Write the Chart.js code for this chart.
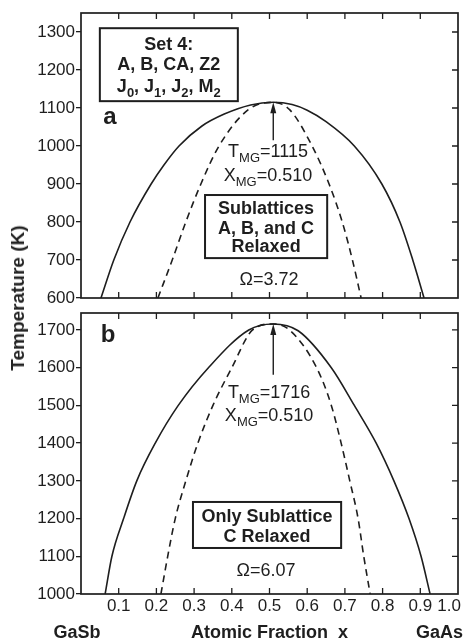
<!DOCTYPE html>
<html>
<head>
<meta charset="utf-8">
<script src="https://cdn.jsdelivr.net/npm/chart.js@4.4.1/dist/chart.umd.min.js"></script>
<style>
body{margin:0;background:#fff;width:464px;height:642px;overflow:hidden;position:relative;font-family:'Liberation Sans',Arial,sans-serif}
canvas{position:absolute;left:0}
#top{top:0}
#bot{top:300px}
#ytitle{position:absolute;left:18px;top:298px;transform:translate(-50%,-50%) rotate(-90deg);font-weight:bold;font-size:19px;white-space:nowrap;color:#222}
</style>
</head>
<body>
<canvas id="top" width="464" height="310"></canvas>
<canvas id="bot" width="464" height="342"></canvas>
<div id="ytitle">Temperature (K)</div>
<script>
// tick values / labels
const xTicks = [0.1, 0.2, 0.3, 0.4, 0.5, 0.6, 0.7, 0.8, 0.9, 1.0];
const xLabels = ['0.1','0.2','0.3','0.4','0.5','0.6','0.7','0.8','0.9','1.0'];
const yTicksA = [600, 700, 800, 900, 1000, 1100, 1200, 1300];
const yTicksB = [1000, 1100, 1200, 1300, 1400, 1500, 1600, 1700];

// panel a : solid (binodal) and dashed (spinodal)
const aSolidX = [0.053, 0.087, 0.13, 0.186, 0.22, 0.26, 0.32, 0.38, 0.45, 0.51, 0.56, 0.60, 0.65, 0.725, 0.798, 0.846, 0.88, 0.91];
const aSolidT = [600, 700, 800, 900, 950, 1000, 1052, 1084, 1108, 1115, 1109, 1094, 1064, 1000, 900, 800, 700, 600];
const aDashX = [0.204, 0.242, 0.278, 0.318, 0.366, 0.443, 0.51, 0.554, 0.613, 0.658, 0.693, 0.72, 0.743];
const aDashT = [600, 700, 800, 900, 1000, 1095, 1115, 1095, 1000, 900, 800, 700, 600];

// panel b
const bSolidX = [0.064, 0.082, 0.113, 0.148, 0.197, 0.258, 0.338, 0.445, 0.51, 0.576, 0.664, 0.725, 0.783, 0.83, 0.87, 0.902, 0.926];
const bSolidT = [1000, 1100, 1200, 1300, 1400, 1500, 1600, 1700, 1716, 1698, 1600, 1500, 1400, 1300, 1200, 1100, 1000];
const bDashX = [0.212, 0.23, 0.25, 0.278, 0.31, 0.35, 0.40, 0.455, 0.51, 0.553, 0.625, 0.664, 0.69, 0.713, 0.735, 0.75, 0.767];
const bDashT = [1000, 1100, 1200, 1300, 1400, 1500, 1600, 1700, 1716, 1700, 1600, 1500, 1400, 1300, 1200, 1100, 1000];

const FONT = "'Liberation Sans', Arial, Helvetica, sans-serif";
const INK = '#1e1e1e';

function pts(xs, ts) {
    return xs.map((x, i) => ({x: x, y: ts[i]}));
}

function line(xs, ts, dashed) {
    return {
        data: pts(xs, ts),
        showLine: true,
        borderColor: INK,
        borderWidth: 1.6,
        borderDash: dashed ? [7, 5] : [],
        pointRadius: 0,
        cubicInterpolationMode: 'monotone'
    };
}

// text with subscripts, parts = [[text, isSub], ...], centred on cx, cy
function rich(ctx, parts, cx, cy, size, weight) {
    const sub = Math.round(size * 0.74);
    const f = p => (weight || '') + ' ' + (p[1] ? sub : size) + 'px ' + FONT;
    let w = 0;
    parts.forEach(p => { ctx.font = f(p); w += ctx.measureText(p[0]).width; });
    let x = cx - w / 2;
    ctx.textAlign = 'left';
    ctx.textBaseline = 'alphabetic';
    parts.forEach(p => {
        ctx.font = f(p);
        ctx.fillText(p[0], x, cy + size * 0.36 + (p[1] ? size * 0.3 : 0));
        x += ctx.measureText(p[0]).width;
    });
}

function decoPlugin(n) {
    return {
        id: 'deco',
        afterDraw(chart) {
            const ctx = chart.ctx, a = chart.chartArea;
            const sx = chart.scales.x, sy = chart.scales.y;
            const X = v => sx.getPixelForValue(v), Y = v => sy.getPixelForValue(v);
            ctx.save();
            ctx.strokeStyle = INK;
            ctx.fillStyle = INK;

            // frame + inward ticks
            ctx.lineWidth = 1.7;
            ctx.strokeRect(a.left, a.top, a.right - a.left, a.bottom - a.top);
            ctx.lineWidth = 1.3;
            ctx.beginPath();
            xTicks.forEach(v => {
                if (v >= 1) return;
                ctx.moveTo(X(v), a.top); ctx.lineTo(X(v), a.top + 6);
                ctx.moveTo(X(v), a.bottom); ctx.lineTo(X(v), a.bottom - 6);
            });
            n.yTicks.forEach(v => {
                if (Y(v) >= a.bottom - 1) return;
                ctx.moveTo(a.right, Y(v)); ctx.lineTo(a.right - 6, Y(v));
            });
            ctx.stroke();

            // panel letter
            ctx.font = 'bold 24px ' + FONT;
            ctx.textAlign = 'center';
            ctx.textBaseline = 'middle';
            ctx.fillText(n.letter[0], X(n.letter[1]), Y(n.letter[2]));

            // arrow to the critical point
            const ax = X(n.arrow[0]), ay0 = Y(n.arrow[1]), ay1 = Y(n.arrow[2]);
            ctx.lineWidth = 1.4;
            ctx.beginPath();
            ctx.moveTo(ax, ay0); ctx.lineTo(ax, ay1 + 6);
            ctx.stroke();
            ctx.beginPath();
            ctx.moveTo(ax, ay1); ctx.lineTo(ax - 3, ay1 + 11); ctx.lineTo(ax + 3, ay1 + 11);
            ctx.closePath();
            ctx.fill();

            // T_MG / X_MG
            rich(ctx, [['T', 0], ['MG', 1], ['=' + n.tmg, 0]], X(n.mg[0]), Y(n.mg[1]), 18, '');
            rich(ctx, [['X', 0], ['MG', 1], ['=' + n.xmg, 0]], X(n.mg[0]), Y(n.mg[2]), 18, '');

            // boxes
            n.boxes.forEach(b => {
                ctx.lineWidth = 2;
                const x0 = X(b.x[0]), x1 = X(b.x[1]), y0 = Y(b.t[0]), y1 = Y(b.t[1]);
                ctx.fillStyle = '#fff';
                ctx.fillRect(x0, y0, x1 - x0, y1 - y0);
                ctx.strokeRect(x0, y0, x1 - x0, y1 - y0);
                ctx.fillStyle = INK;
                const cx = (x0 + x1) / 2;
                b.lines.forEach((ln, i) => rich(ctx, ln, cx, Y(b.at[i]), 18, 'bold'));
            });

            // omega
            rich(ctx, [['\u03A9=' + n.omega[0], 0]], X(n.omega[1]), Y(n.omega[2]), 18, '');

            // x tick labels + axis labels (bottom panel only)
            if (n.xAxis) {
                ctx.font = '17px ' + FONT;
                ctx.textAlign = 'center';
                ctx.textBaseline = 'middle';
                xTicks.forEach((v, i) => {
                    const w = ctx.measureText(xLabels[i]).width;
                    const cx = Math.min(X(v), chart.width - w / 2 - 3);
                    ctx.fillText(xLabels[i], cx, a.bottom + 12);
                });
                ctx.font = 'bold 18px ' + FONT;
                ctx.fillText('GaSb', a.left - 4, a.bottom + 39);
                ctx.fillText('Atomic Fraction  x', X(0.5), a.bottom + 39);
                ctx.textAlign = 'right';
                ctx.fillText('GaAs', chart.width - 1, a.bottom + 39);
            }
            ctx.restore();
        }
    };
}

function yAxis(min, max, ticks) {
    return {
        min: min, max: max,
        afterBuildTicks: s => { s.ticks = ticks.map(v => ({value: v})); },
        afterFit: s => { s.width = 81; s.paddingTop = 0; s.paddingBottom = 0; },
        border: {display: false},
        grid: {drawOnChartArea: false, drawTicks: true, tickLength: 5, color: INK, lineWidth: 1.3},
        ticks: {color: INK, padding: 1, font: {family: FONT, size: 17}, callback: v => String(v)}
    };
}

function makeChart(id, datasets, yScale, xScale, pad, notes) {
    return new Chart(document.getElementById(id), {
        type: 'scatter',
        data: {datasets: datasets},
        options: {
            responsive: false,
            animation: false,
            devicePixelRatio: 1,
            layout: {padding: pad},
            plugins: {legend: {display: false}, tooltip: {enabled: false}},
            scales: {x: xScale, y: yScale}
        },
        plugins: [decoPlugin(notes)]
    });
}

makeChart('top',
    [line(aSolidX, aSolidT, false), line(aDashX, aDashT, true)],
    yAxis(600, 1350, yTicksA),
    {min: 0, max: 1, display: false},
    {top: 13, right: 6, bottom: 12, left: 0},
    {
        yTicks: yTicksA,
        letter: ['a', 0.077, 1076],
        arrow: [0.51, 1015, 1115],
        tmg: '1115', xmg: '0.510', mg: [0.496, 989, 926],
        omega: ['3.72', 0.499, 652],
        boxes: [
            {x: [0.05, 0.416], t: [1310, 1118], at: [1271, 1218, 1160],
             lines: [[['Set 4:', 0]], [['A, B, CA, Z2', 0]],
                     [['J', 0], ['0', 1], [', J', 0], ['1', 1], [', J', 0], ['2', 1], [', M', 0], ['2', 1]]]},
            {x: [0.329, 0.653], t: [871, 705], at: [839, 786, 739],
             lines: [[['Sublattices', 0]], [['A, B, and C', 0]], [['Relaxed', 0]]]}
        ]
    });

makeChart('bot',
    [line(bSolidX, bSolidT, false), line(bDashX, bDashT, true)],
    yAxis(1000, 1745, yTicksB),
    {min: 0, max: 1, border: {display: false}, grid: {display: false}, ticks: {display: false},
     afterFit: s => { s.height = 48; s.paddingLeft = 0; s.paddingRight = 0; }},
    {top: 13, right: 6, bottom: 0, left: 0},
    {
        yTicks: yTicksB,
        xAxis: true,
        letter: ['b', 0.072, 1687],
        arrow: [0.51, 1581, 1716],
        tmg: '1716', xmg: '0.510', mg: [0.499, 1538, 1477],
        omega: ['6.07', 0.491, 1064],
        boxes: [
            {x: [0.297, 0.69], t: [1244, 1122], at: [1209, 1156],
             lines: [[['Only Sublattice', 0]], [['C Relaxed', 0]]]}
        ]
    });
</script>
</body>
</html>
